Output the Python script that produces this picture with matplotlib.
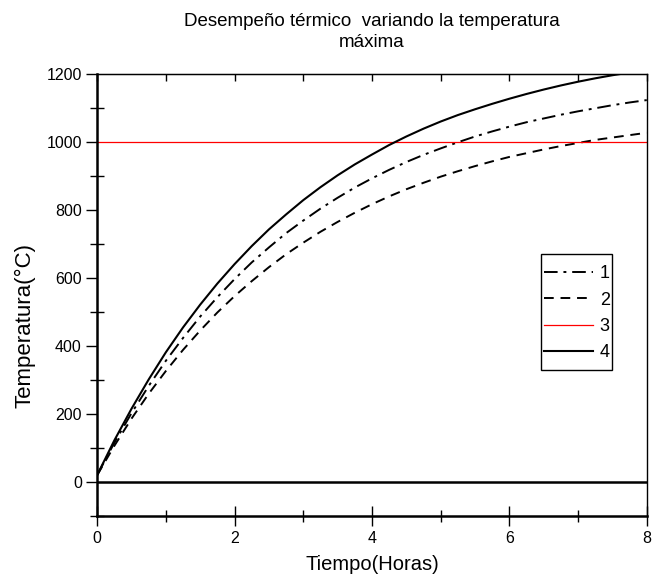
import numpy as np
import matplotlib
matplotlib.use("Agg")
import matplotlib.pyplot as plt
from matplotlib.ticker import MultipleLocator
from matplotlib.patches import Rectangle

plt.rcParams['font.family'] = ['Liberation Sans', 'DejaVu Sans']

# time in hours
t = [0, 0.25, 0.5, 0.75, 1, 1.25, 1.5, 1.75, 2, 2.25, 2.5, 2.75, 3, 3.25, 3.5, 3.75,
     4, 4.25, 4.5, 4.75, 5, 5.25, 5.5, 5.75, 6, 6.25, 6.5, 6.75, 7, 7.25, 7.5, 7.75, 8]
# curves (deg C)
curva1 = [20, 115, 202, 282, 356, 423, 486, 543, 596, 645, 689, 731, 768, 803, 835, 865,
          892, 917, 940, 961, 980, 998, 1015, 1030, 1044, 1057, 1068, 1079, 1089, 1098, 1107, 1115, 1122]
curva2 = [20, 106, 186, 259, 326, 388, 445, 498, 546, 590, 631, 669, 703, 735, 764, 791,
          816, 839, 860, 879, 897, 913, 928, 942, 955, 966, 977, 987, 996, 1005, 1012, 1019, 1026]
curva3 = [1000] * len(t)
curva4 = [20, 122, 215, 301, 381, 454, 521, 583, 640, 693, 742, 786, 828, 866, 901, 933,
          962, 990, 1015, 1038, 1059, 1078, 1095, 1111, 1126, 1140, 1153, 1165, 1176, 1186, 1195, 1203, 1210]

fig = plt.figure(figsize=(6.52, 5.86), dpi=100)
ax = fig.add_axes([0.149, 0.1195, 0.843, 0.755])

ax.plot(t, curva1, color='black', lw=1.4, dashes=(7, 3, 1.5, 3), label='1')
ax.plot(t, curva2, color='black', lw=1.4, dashes=(5, 3.5), label='2')
ax.plot(t, curva3, color='red', lw=0.9, label='3')
ax.plot(t, curva4, color='black', lw=1.5, label='4')
ax.axhline(0, color='black', lw=1.8)

ax.set_xlim(0, 8)
ax.set_ylim(-100, 1200)
ax.xaxis.set_major_locator(MultipleLocator(2))
ax.xaxis.set_minor_locator(MultipleLocator(1))
ax.yaxis.set_major_locator(MultipleLocator(200))
ax.yaxis.set_minor_locator(MultipleLocator(100))

ax.tick_params(axis='x', which='major', direction='inout', length=14, width=1, labelsize=11.5, pad=4)
ax.tick_params(axis='x', which='minor', direction='inout', length=9, width=1)
ax.tick_params(axis='y', which='major', direction='out', length=8, width=1, labelsize=11.5, pad=3)
ax.tick_params(axis='y', which='minor', direction='inout', length=10, width=1)

for s in ['left', 'bottom']:
    ax.spines[s].set_linewidth(1.8)
for s in ['top', 'right']:
    ax.spines[s].set_linewidth(1.0)

# top axis ticks (inward, no labels)
top = ax.secondary_xaxis('top')
top.xaxis.set_major_locator(MultipleLocator(1))
top.tick_params(direction='in', length=5, width=1, labelsize=0)
top.set_xticklabels([])

ax.set_xlabel('Tiempo(Horas)', fontsize=14.5, labelpad=6)
ax.set_ylabel('Temperatura(°C)', fontsize=16, labelpad=4)
ax.yaxis.set_label_coords(-0.112, 0.43)
ax.set_title('Desempeño térmico  variando la temperatura\nmáxima', fontsize=13.5,
             pad=19, linespacing=1.35)

# legend without frame, box drawn separately
leg = ax.legend(loc='upper left', bbox_to_anchor=(0.8127, 0.567), fontsize=13,
                handlelength=2.7, labelspacing=0.52, handletextpad=0.4,
                borderpad=0, frameon=False, borderaxespad=0)
ax.add_patch(Rectangle((0.8073, 0.33), 0.129, 0.262, transform=ax.transAxes,
                       fill=True, facecolor='white', edgecolor='black', lw=1.0, zorder=4))
leg.set_zorder(5)

fig.savefig('out.png', dpi=100)
